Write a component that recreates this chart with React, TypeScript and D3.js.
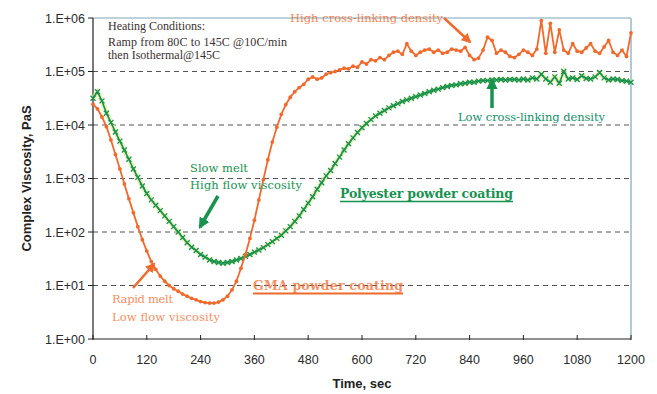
import React from 'react';
import * as d3 from 'd3';

// time axis, one reading every 10 s
const times = d3.range(0, 1201, 10);

// GMA powder coating, complex viscosity (Pa.s)
const gmaValues = [
  2.45e4, 2.0e4, 1.41e4, 9.3e3, 5.25e3, 2.82e3, 1.51e3, 790, 420, 230,
  126, 72, 44, 28, 20, 15, 12, 10, 8.7, 7.8,
  6.9, 6.3, 5.75, 5.4, 5.0, 4.8, 4.7, 4.7, 4.9, 5.4,
  6.3, 8.3, 12, 21, 38, 76, 166, 398, 955, 2.24e3,
  4.8e3, 9.1e3, 1.58e4, 2.4e4, 3.3e4, 4.2e4, 5.0e4, 5.75e4, 7.2e4, 7.9e4,
  7.2e4, 7.6e4, 8.9e4, 9.5e4, 1.0e5, 1.07e5, 1.15e5, 1.12e5, 1.26e5, 1.2e5,
  1.51e5, 1.38e5, 1.66e5, 1.58e5, 1.82e5, 1.66e5, 2.0e5, 2.29e5, 2.4e5, 2.09e5,
  3.31e5, 2.4e5, 2.0e5, 2.29e5, 2.51e5, 2.63e5, 2.29e5, 2.51e5, 2.19e5, 2.29e5,
  2.63e5, 2.51e5, 2.4e5, 2.82e5, 2.0e5, 1.66e5, 1.78e5, 2.51e5, 4.37e5, 3.8e5,
  2.19e5, 2.51e5, 2.29e5, 1.91e5, 1.82e5, 2.09e5, 2.51e5, 2.29e5, 2.0e5, 2.63e5,
  8.9e5, 2.19e5, 7.9e5, 2.29e5, 6.0e5, 2.51e5, 2.19e5, 3.31e5, 2.4e5, 2.29e5,
  2.75e5, 3.31e5, 2.4e5, 2.19e5, 2.88e5, 3.8e5, 2.29e5, 2.0e5, 2.51e5, 1.91e5,
  5.25e5,
];

// Polyester powder coating, complex viscosity (Pa.s)
const polyValues = [
  3.16e4, 4.17e4, 2.82e4, 1.66e4, 1.12e4, 7.4e3, 5.0e3, 3.4e3, 2.29e3, 1.51e3,
  1.05e3, 724, 525, 398, 316, 251, 200, 158, 126, 100,
  79, 63, 52, 45, 38, 34, 30, 28, 27, 26,
  27, 28, 30, 32, 35, 38, 42, 46, 51, 58,
  66, 76, 87, 105, 126, 158, 200, 263, 347, 457,
  631, 832, 1.12e3, 1.41e3, 1.91e3, 2.51e3, 3.4e3, 4.47e3, 5.75e3, 7.24e3,
  8.9e3, 1.07e4, 1.26e4, 1.48e4, 1.66e4, 1.86e4, 2.09e4, 2.29e4, 2.51e4, 2.75e4,
  2.95e4, 3.16e4, 3.39e4, 3.63e4, 3.89e4, 4.17e4, 4.47e4, 4.68e4, 5.0e4, 5.25e4,
  5.5e4, 5.62e4, 5.9e4, 6.03e4, 6.31e4, 6.31e4, 6.61e4, 6.76e4, 6.76e4, 6.92e4,
  6.92e4, 7.08e4, 6.92e4, 7.08e4, 7.08e4, 6.92e4, 7.24e4, 6.92e4, 7.59e4, 7.24e4,
  8.91e4, 7.24e4, 6.31e4, 7.94e4, 6.03e4, 1.0e5, 7.24e4, 7.59e4, 7.08e4, 8.32e4,
  7.41e4, 7.24e4, 7.94e4, 9.55e4, 7.59e4, 6.92e4, 7.24e4, 7.08e4, 6.76e4, 6.61e4,
  6.31e4,
];

const xTicks = [0, 120, 240, 360, 480, 600, 720, 840, 960, 1080, 1200];
const yTicks = [1, 10, 100, 1e3, 1e4, 1e5, 1e6];
const yTickLabels = ['1.E+00', '1.E+01', '1.E+02', '1.E+03', '1.E+04', '1.E+05', '1.E+06'];
const gridValues = [10, 100, 1e3, 1e4, 1e5];

const W = 657;
const H = 394;
const margin = { top: 18, right: 26, bottom: 55, left: 93 };

const ORANGE = '#f06a2c';
const GREEN = '#17924f';
const TEXT_GREEN = '#16906a';
const SANS = '"Liberation Sans", Arial, sans-serif';
const SERIF = '"Liberation Serif", "Times New Roman", serif';
const BOOK = '"DejaVu Serif", "Liberation Serif", serif';

export default function App() {
  const x = d3.scaleLinear().domain([0, 1200]).range([margin.left, W - margin.right]);
  const y = d3.scaleLog().domain([1, 1e6]).range([H - margin.bottom, margin.top]);

  const gma = times.map((t, i) => ({ t, v: gmaValues[i] }));
  const poly = times.map((t, i) => ({ t, v: polyValues[i] }));

  const line = d3.line<{ t: number; v: number }>().x(d => x(d.t)).y(d => y(d.v));

  const x0 = x(0), x1 = x(1200), yb = y(1), yt = y(1e6);

  return (
    <svg width={W} height={H} style={{ position: 'absolute', left: 0, top: 0, background: '#fff' }}>
      <defs>
        <marker id="headO" viewBox="0 0 10 10" refX="8" refY="5" markerWidth="4" markerHeight="4" orient="auto">
          <path d="M0,0 L10,5 L0,10 z" fill={ORANGE} />
        </marker>
        <marker id="headG" viewBox="0 0 10 10" refX="8" refY="5" markerWidth="3.2" markerHeight="3.2" orient="auto">
          <path d="M0,0 L10,5 L0,10 z" fill={GREEN} />
        </marker>
      </defs>

      {/* frame */}
      <line x1={x0} x2={x1} y1={yt} y2={yt} stroke="#7fa6b8" strokeWidth={1.2} />
      <line x1={x1} x2={x1} y1={yt} y2={yb} stroke="#7fa6b8" strokeWidth={1.2} />

      {/* grid */}
      {gridValues.map(v => (
        <line key={v} x1={x0} x2={x1} y1={y(v)} y2={y(v)} stroke="#555" strokeWidth={1} strokeDasharray="5,4" />
      ))}

      {/* axes */}
      <line x1={x0} x2={x0} y1={yt} y2={yb} stroke="#222" strokeWidth={1.2} />
      <line x1={x0} x2={x1} y1={yb} y2={yb} stroke="#222" strokeWidth={1.2} />
      {yTicks.map((v, i) => (
        <g key={v}>
          <line x1={x0 - 5} x2={x0} y1={y(v)} y2={y(v)} stroke="#222" />
          <text x={x0 - 8} y={y(v) + 4.5} textAnchor="end" fontFamily={SANS} fontSize={12.5} fill="#2a2a2a">
            {yTickLabels[i]}
          </text>
        </g>
      ))}
      {xTicks.map(t => (
        <g key={t}>
          <line x1={x(t)} x2={x(t)} y1={yb - 4} y2={yb + 1} stroke="#222" />
          <text x={x(t)} y={yb + 25} textAnchor="middle" fontFamily={SANS} fontSize={12.5} fill="#2a2a2a">
            {t}
          </text>
        </g>
      ))}
      <text x={(x0 + x1) / 2} y={H - 6} textAnchor="middle" fontFamily={SANS} fontWeight="bold" fontSize={13} fill="#222">
        Time, sec
      </text>
      <text transform={`translate(31,${(yt + yb) / 2}) rotate(-90)`} textAnchor="middle" fontFamily={SANS} fontWeight="bold" fontSize={13} fill="#222">
        Complex Viscosity, PaS
      </text>

      {/* polyester series */}
      <path d={line(poly) ?? ''} fill="none" stroke="#dfe88a" strokeWidth={5} opacity={0.6} />
      <path d={line(poly) ?? ''} fill="none" stroke={GREEN} strokeWidth={1.6} />
      {poly.map(d => (
        <path key={d.t} d={`M${x(d.t) - 2.5},${y(d.v) - 2.5}l5,5m0,-5l-5,5`} stroke={GREEN} strokeWidth={1.3} />
      ))}

      {/* GMA series */}
      <path d={line(gma) ?? ''} fill="none" stroke={ORANGE} strokeWidth={1.8} />
      {gma.map(d => (
        <circle key={d.t} cx={x(d.t)} cy={y(d.v)} r={1.9} fill={ORANGE} />
      ))}

      {/* annotations */}
      <g fontFamily={SERIF} fontSize={12} fill="#3b3030">
        <text x={108} y={30}>Heating Conditions:</text>
        <text x={108} y={46} textLength={179}>Ramp from 80C to 145C @10C/min</text>
        <text x={108} y={59}>then Isothermal@145C</text>
      </g>

      <text x={290} y={22} fontFamily={BOOK} fontSize={11.5} fill={ORANGE} opacity={0.8} textLength={153}>High cross-linking density</text>
      <line x1={444} y1={18} x2={470} y2={42} stroke={ORANGE} strokeWidth={2.5} markerEnd="url(#headO)" />

      <text x={458} y={121} fontFamily={BOOK} fontSize={11.5} fill={TEXT_GREEN} textLength={147}>Low cross-linking density</text>
      <line x1={492} y1={108} x2={492} y2={80} stroke={GREEN} strokeWidth={3.5} markerEnd="url(#headG)" />

      <g fontFamily={BOOK} fontSize={11.5} fill={GREEN}>
        <text x={190} y={172}>Slow melt</text>
        <text x={190} y={189} textLength={112}>High flow viscosity</text>
      </g>
      <line x1={218} y1={196} x2={200} y2={227} stroke={GREEN} strokeWidth={3.5} markerEnd="url(#headG)" />

      <text x={340} y={198} fontFamily={BOOK} fontSize={12.5} fontWeight="bold" fill={GREEN} textLength={173}>Polyester powder coating</text>
      <line x1={340} x2={513} y1={201.5} y2={201.5} stroke={GREEN} strokeWidth={1.5} />

      <g fontFamily={BOOK} fontSize={11.5} fill={ORANGE} opacity={0.75}>
        <text x={112} y={303} textLength={61}>Rapid melt</text>
        <text x={112} y={321} textLength={108}>Low flow viscosity</text>
      </g>
      <line x1={133} y1={288} x2={154} y2={264} stroke={ORANGE} strokeWidth={2.5} markerEnd="url(#headO)" />

      <text x={253} y={290} fontFamily={BOOK} fontSize={12.5} fontWeight="bold" fill={ORANGE} opacity={0.75} textLength={150}>GMA powder coating</text>
      <line x1={253} x2={403} y1={293.5} y2={293.5} stroke={ORANGE} strokeWidth={2} />
    </svg>
  );
}
